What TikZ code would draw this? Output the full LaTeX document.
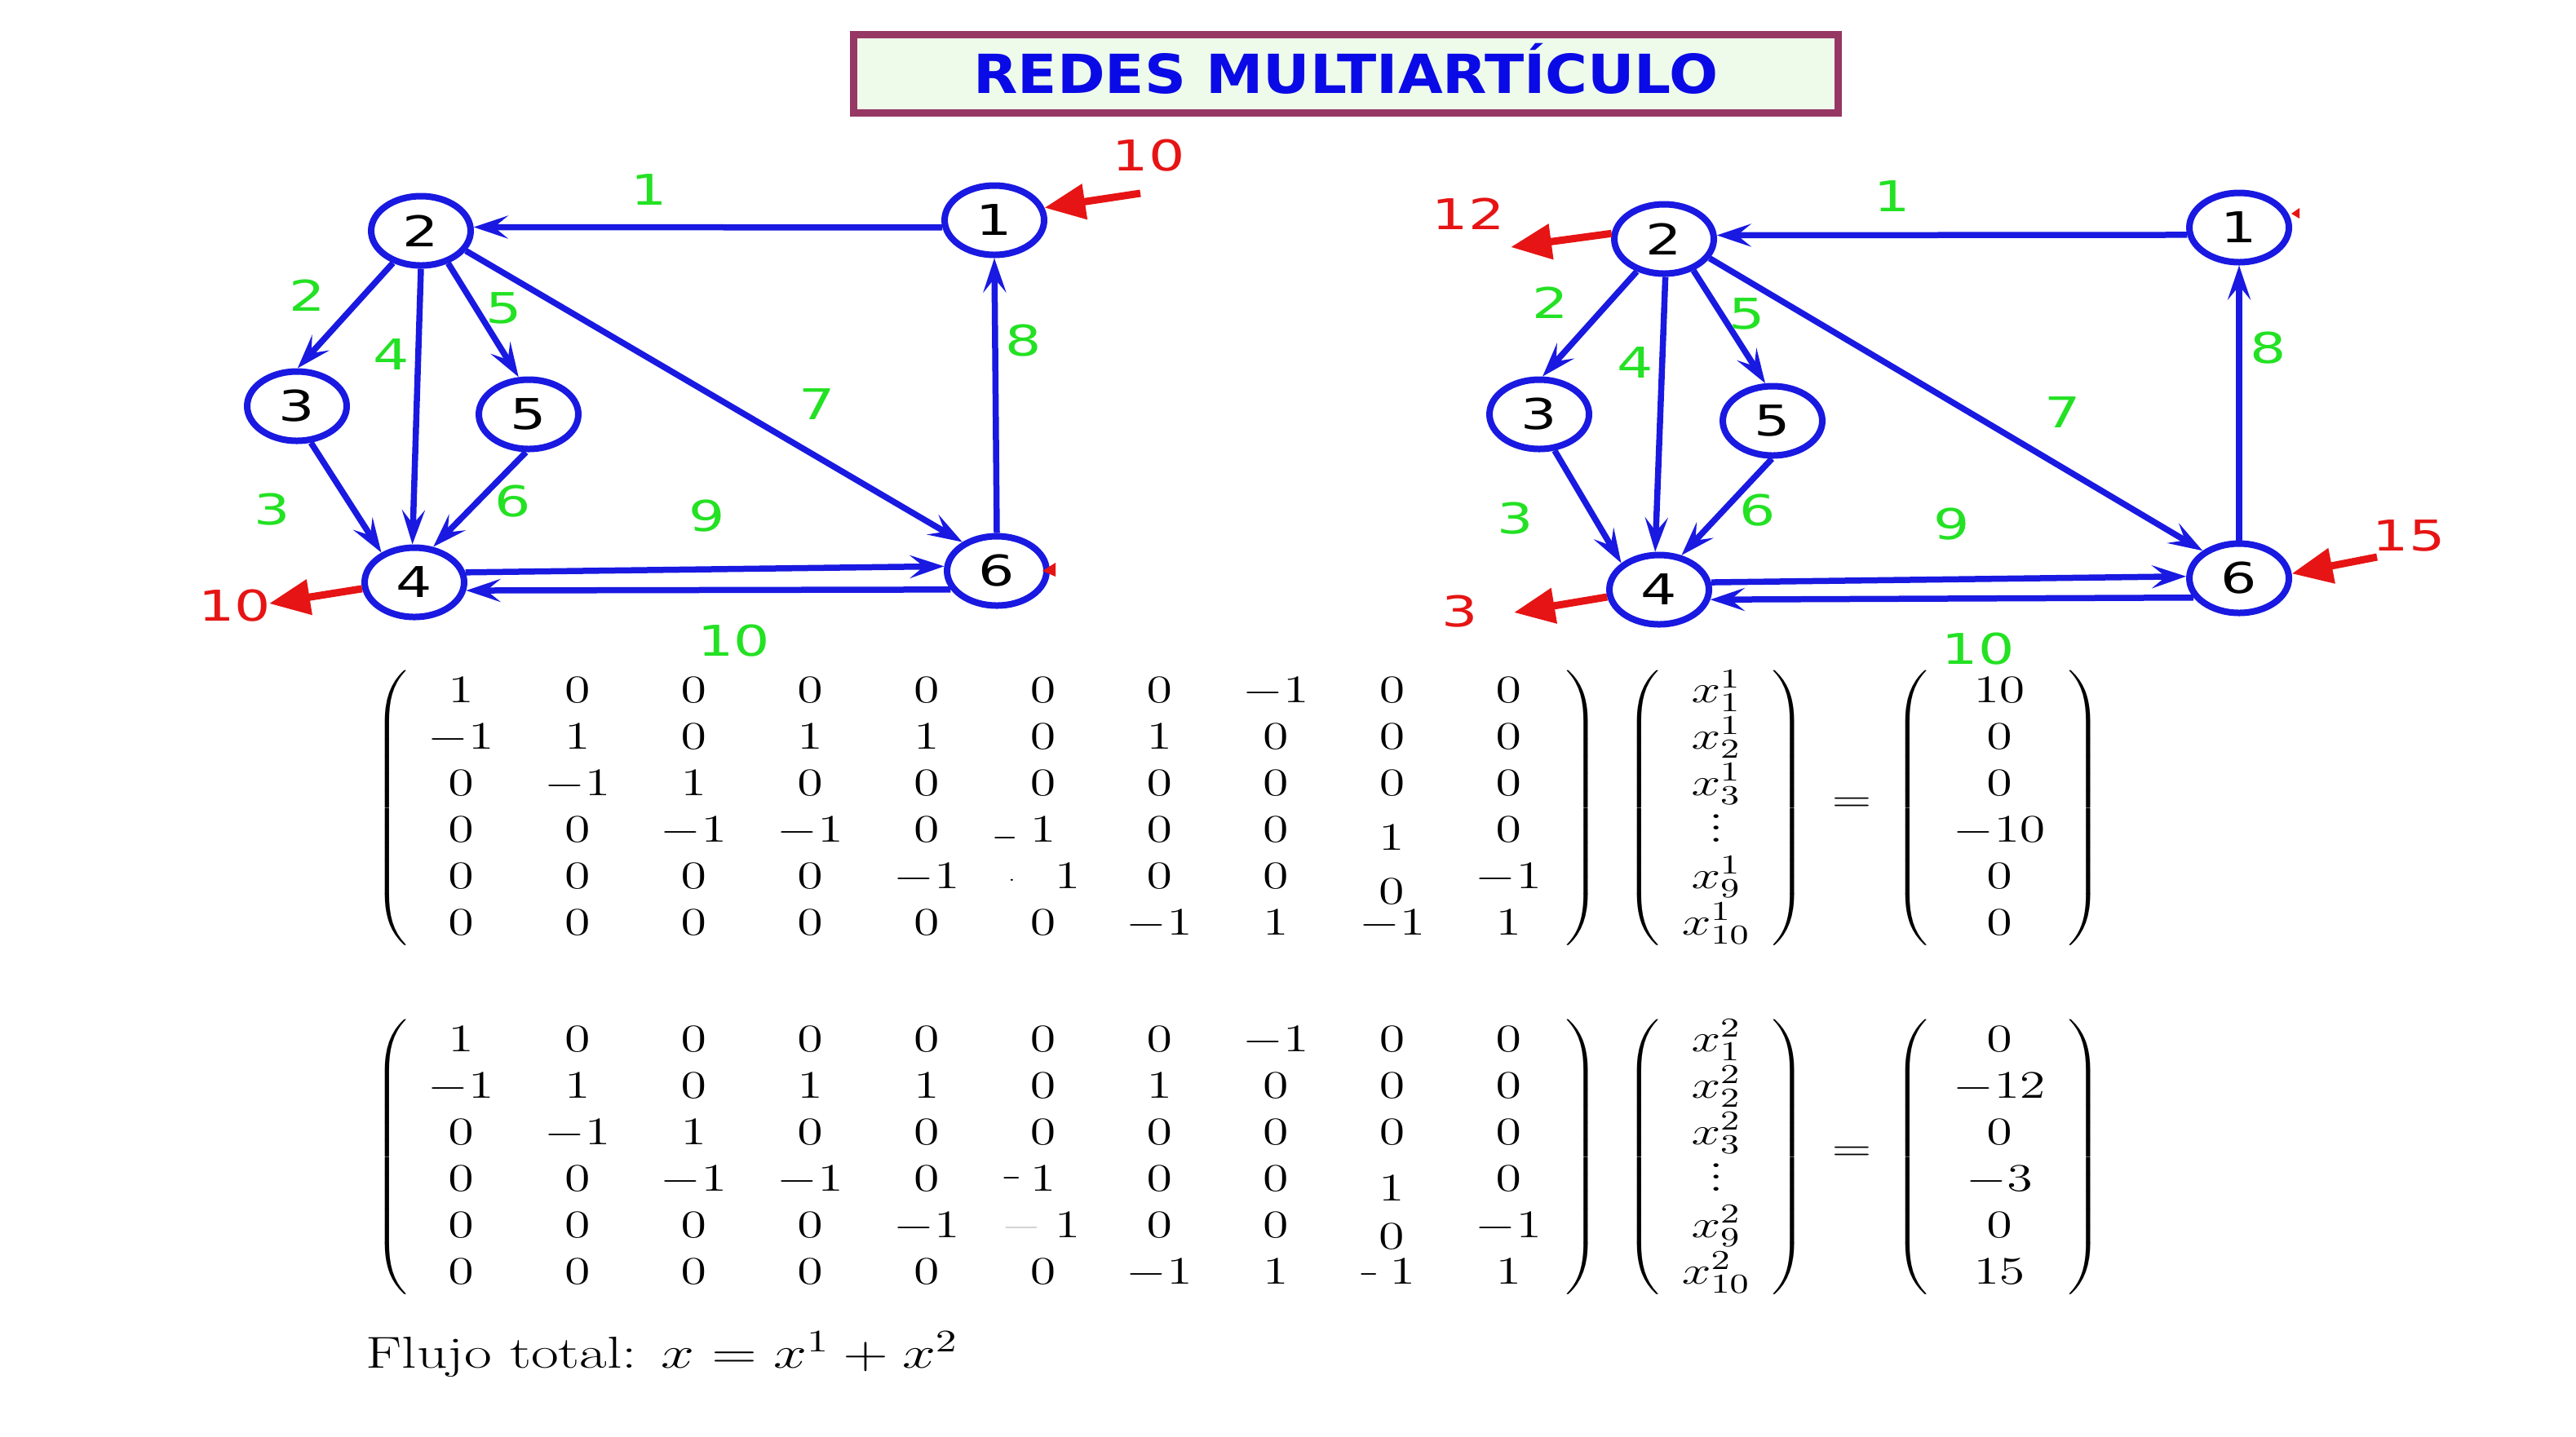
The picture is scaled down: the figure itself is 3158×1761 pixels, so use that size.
\RequirePackage{fix-cm}
\documentclass[tikz,border=0pt]{standalone}
\usepackage{fontspec}
\usepackage{graphicx}
\usetikzlibrary{arrows.meta,shapes.geometric}
\newfontfamily\dvfont{DejaVu Sans}
\definecolor{nblue}{RGB}{25,25,225}
\definecolor{lgreen}{RGB}{35,225,35}
\definecolor{lred}{RGB}{230,20,20}
\definecolor{tblue}{RGB}{10,10,230}
\definecolor{tborder}{RGB}{150,55,100}
\definecolor{tfill}{RGB}{238,251,234}
\newcommand\hs[1]{\scalebox{1.34}[1]{#1}}
\newcommand\nodefont{\dvfont\fontsize{14.8}{17}\selectfont}
\newcommand\mfont{\fontsize{13.6}{16}\selectfont}
\newcommand\ffont{\fontsize{15.6}{18}\selectfont}
\newcommand\mrow[3]{\foreach \mE [count=\mC] in {#3} {\node[ent] (#1-\mC) at ({565+142.7*(\mC-1)},#2) {\hs{$\mE$}};}}
\newcommand\vcol[4]{\foreach \mE [count=\mC] in {#4} {\node[ent] (#1-\mC) at (#2,{#3+57*(\mC-1)}) {\hs{$\mE$}};}}
\tikzset{
  gnode/.style={ellipse, draw=nblue, line width=0.8mm, minimum width=12.2mm, minimum height=8.5mm, inner sep=0pt, font=\nodefont, text=black},
  glab/.style={text=lgreen, font=\nodefont, inner sep=0pt},
  rlab/.style={text=lred, font=\nodefont, inner sep=0pt},
  edge/.style={draw=nblue, line width=0.75mm, -{Stealth[length=4.2mm,width=2.8mm,inset=1.7mm]}},
  rarrow/.style={draw=lred, line width=0.9mm, -{Triangle[length=5mm,width=4.2mm]}},
  ent/.style={anchor=base, inner sep=0pt, font=\mfont},
  paren/.style={inner sep=0pt, font=\mfont}
}
\begin{document}
\begin{tikzpicture}[x=0.1mm,y=-0.1mm]
\useasboundingbox (0,0) rectangle (3158,1761);
% title
\node[draw=tborder, fill=tfill, line width=0.9mm, minimum width=120.7mm, minimum height=9.6mm, inner sep=0pt, text height=4.84mm, text depth=0pt, text=tblue, font=\dvfont\bfseries\fontsize{18.8}{22}\selectfont] (title) at (1650,90.5) {\scalebox{1.07}[1]{REDES MULTIARTÍCULO}};

% left graph
\node[gnode] (L1) at (1219,270) {\hs{1}};
\node[gnode] (L2) at (516,283) {\hs{2}};
\node[gnode] (L3) at (364,498) {\hs{3}};
\node[gnode] (L4) at (508,714) {\hs{4}};
\node[gnode] (L5) at (648,508) {\hs{5}};
\node[gnode] (L6) at (1222,700) {\hs{6}};
\draw[edge] (L1.188) -- (L2.4);
\draw[edge] (L2.229) -- (L3.89);
\draw[edge] (L2.270) -- (L4.93);
\draw[edge] (L2.310) -- (L5.105);
\draw[edge] (L2.336) -- (L6.140);
\draw[edge] (L3.291) -- (L4.138);
\draw[edge] (L5.266) -- (L4.62);
\draw[edge] (L4.11) -- (L6.175);
\draw[edge] (L6.202) -- (L4.351);
\draw[edge] (L6.90) -- (L1.270);
\node[glab] (Lb1) at (796,233) {\hs{1}};
\node[glab] (Lb2) at (377,362) {\hs{2}};
\node[glab] (Lb4) at (480,435) {\hs{4}};
\node[glab] (Lb5) at (618,378) {\hs{5}};
\node[glab] (Lb7) at (1002,496) {\hs{7}};
\node[glab] (Lb8) at (1255,418) {\hs{8}};
\node[glab] (Lb3) at (334,625) {\hs{3}};
\node[glab] (Lb6) at (629,615) {\hs{6}};
\node[glab] (Lb9) at (867,633) {\hs{9}};
\node[glab] (Lb10) at (900,786) {\hs{10}};
\coordinate (LrA) at (1398,237);
\draw[rarrow] (LrA) -- (L1.14);
\node[rlab] (LrAt) at (1408,191) {\hs{10}};
\coordinate (LrB) at (330,740);
\draw[rarrow] (L4.187) -- (LrB);
\node[rlab] (LrBt) at (288,743) {\hs{10}};
\fill[lred] (1294,690) -- (1278,700) -- (1294,707) -- cycle;

% right graph
\node[gnode] (R1) at (2745,279) {\hs{1}};
\node[gnode] (R2) at (2040,293) {\hs{2}};
\node[gnode] (R3) at (1887,508) {\hs{3}};
\node[gnode] (R4) at (2034,723) {\hs{4}};
\node[gnode] (R5) at (2173,516) {\hs{5}};
\node[gnode] (R6) at (2745,709) {\hs{6}};
\draw[edge] (R1.188) -- (R2.4);
\draw[edge] (R2.230) -- (R3.85);
\draw[edge] (R2.272) -- (R4.96);
\draw[edge] (R2.313) -- (R5.101);
\draw[edge] (R2.337) -- (R6.143);
\draw[edge] (R3.293) -- (R4.145);
\draw[edge] (R5.269) -- (R4.57);
\draw[edge] (R4.8) -- (R6.178);
\draw[edge] (R6.203) -- (R4.349);
\draw[edge] (R6.90) -- (R1.270);
\node[glab] (Rb1) at (2320,241) {\hs{1}};
\node[glab] (Rb2) at (1901,371) {\hs{2}};
\node[glab] (Rb4) at (2005,445) {\hs{4}};
\node[glab] (Rb5) at (2142,385) {\hs{5}};
\node[glab] (Rb7) at (2529,506) {\hs{7}};
\node[glab] (Rb8) at (2781,427) {\hs{8}};
\node[glab] (Rb3) at (1858,636) {\hs{3}};
\node[glab] (Rb6) at (2155,626) {\hs{6}};
\node[glab] (Rb9) at (2393,643) {\hs{9}};
\node[glab] (Rb10) at (2425,796) {\hs{10}};
\coordinate (RrA) at (1852,303);
\draw[rarrow] (R2.174) -- (RrA);
\node[rlab] (RrAt) at (1800,262) {\hs{12}};
\coordinate (RrB) at (1856,751);
\draw[rarrow] (R4.188) -- (RrB);
\node[rlab] (RrBt) at (1790,750) {\hs{3}};
\coordinate (RrC) at (2914,683);
\draw[rarrow] (RrC) -- (R6.5);
\node[rlab] (RrCt) at (2953,657) {\hs{15}};
\fill[lred] (2819,255) -- (2809,262) -- (2819,268) -- cycle;

% first system
\node[paren] (A1L) at (482,991) {\hs{$\left(\vcenter{\hbox{\rule{0pt}{34mm}}}\right.$}};
\node[paren] (A1R) at (1937,991) {\hs{$\left.\vcenter{\hbox{\rule{0pt}{34mm}}}\right)$}};
\mrow{A1r1}{861}{1,0,0,0,0,0,0,-1,0,0}
\mrow{A1r2}{918}{-1,1,0,1,1,0,1,0,0,0}
\mrow{A1r3}{975}{0,-1,1,0,0,0,0,0,0,0}
\mrow{A1r4}{1032}{0,0,-1,-1,0,{\llap{\raisebox{-0.7mm}{\scalebox{0.63}[1]{$-$}}\hspace{1.1mm}}1},0,0,{\raisebox{-1mm}{1}},0}
\mrow{A1r5}{1089}{0,0,0,0,-1,{\hspace{4.5mm}\llap{\raisebox{0.9mm}{\scalebox{0.5}{.}}\hspace{3.6mm}}1},0,0,{\raisebox{-1.9mm}{0}},-1}
\mrow{A1r6}{1146}{0,0,0,0,0,0,-1,1,-1,1}
\node[paren] (X1L) at (2017,991) {\hs{$\left(\vcenter{\hbox{\rule{0pt}{34mm}}}\right.$}};
\node[paren] (X1R) at (2190,991) {\hs{$\left.\vcenter{\hbox{\rule{0pt}{34mm}}}\right)$}};
\vcol{X1}{2104}{861}{x^1_1,x^1_2,x^1_3,\vdots,x^1_9,x^1_{10}}
\node[paren] (EQ1) at (2270,987) {\hs{$=$}};
\node[paren] (B1L) at (2346,991) {\hs{$\left(\vcenter{\hbox{\rule{0pt}{34mm}}}\right.$}};
\node[paren] (B1R) at (2553,991) {\hs{$\left.\vcenter{\hbox{\rule{0pt}{34mm}}}\right)$}};
\vcol{B1}{2451}{861}{10,0,0,-10,0,0}

% second system
\node[paren] (A2L) at (482,1419) {\hs{$\left(\vcenter{\hbox{\rule{0pt}{34mm}}}\right.$}};
\node[paren] (A2R) at (1937,1419) {\hs{$\left.\vcenter{\hbox{\rule{0pt}{34mm}}}\right)$}};
\mrow{A2r1}{1289}{1,0,0,0,0,0,0,-1,0,0}
\mrow{A2r2}{1346}{-1,1,0,1,1,0,1,0,0,0}
\mrow{A2r3}{1403}{0,-1,1,0,0,0,0,0,0,0}
\mrow{A2r4}{1460}{0,0,-1,-1,0,{\llap{\raisebox{0.4mm}{\scalebox{0.47}[1]{$-$}}\hspace{0.8mm}}1},0,0,{\raisebox{-1.2mm}{1}},0}
\mrow{A2r5}{1517}{0,0,0,0,-1,{\hspace{4.5mm}\llap{\textcolor{black!18}{$-$}\hspace{1.2mm}}1},0,0,{\raisebox{-1.4mm}{0}},-1}
\mrow{A2r6}{1574}{0,0,0,0,0,0,-1,1,{\hspace{1.9mm}\llap{\scalebox{0.47}[1]{$-$}\hspace{1mm}}1},1}
\node[paren] (X2L) at (2017,1419) {\hs{$\left(\vcenter{\hbox{\rule{0pt}{34mm}}}\right.$}};
\node[paren] (X2R) at (2190,1419) {\hs{$\left.\vcenter{\hbox{\rule{0pt}{34mm}}}\right)$}};
\vcol{X2}{2104}{1289}{x^2_1,x^2_2,x^2_3,\vdots,x^2_9,x^2_{10}}
\node[paren] (EQ2) at (2270,1415) {\hs{$=$}};
\node[paren] (B2L) at (2346,1419) {\hs{$\left(\vcenter{\hbox{\rule{0pt}{34mm}}}\right.$}};
\node[paren] (B2R) at (2553,1419) {\hs{$\left.\vcenter{\hbox{\rule{0pt}{34mm}}}\right)$}};
\vcol{B2}{2451}{1289}{0,-12,0,-3,0,15}

\node[anchor=base west, inner sep=0pt, font=\ffont] (flujo) at (448,1677) {\hs{Flujo total: $x = x^1 + x^2$}};
\end{tikzpicture}
\end{document}
